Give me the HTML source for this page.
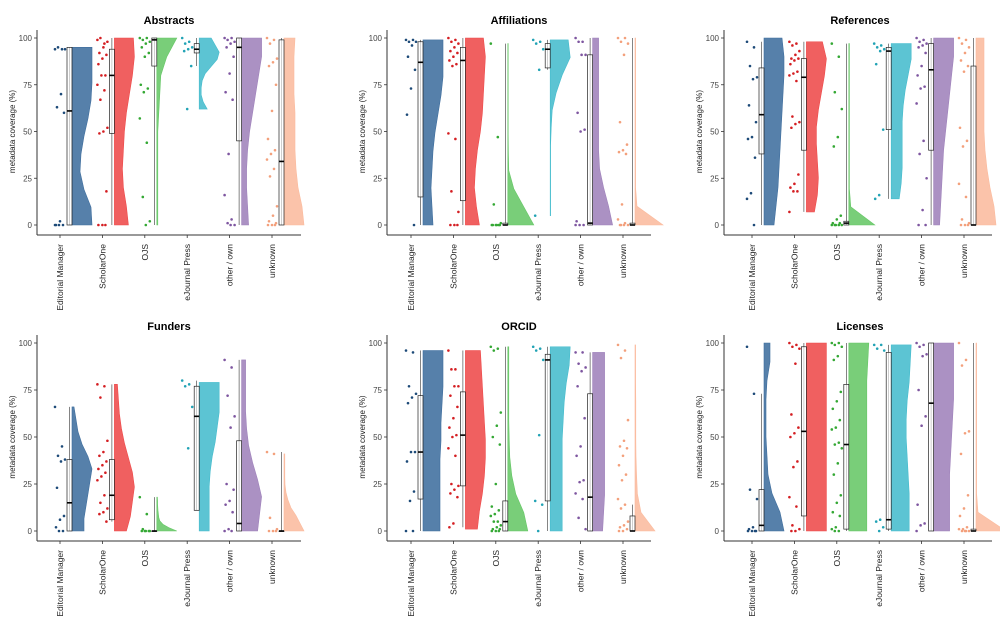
<!DOCTYPE html>
<html><head><meta charset="utf-8"><style>
body{margin:0;background:#fff;}
svg{display:block;font-family:"Liberation Sans",sans-serif;}
</style></head><body>
<svg id="chart" width="1000" height="618" viewBox="0 0 1000 618"></svg>
<script>
const categories = ["Editorial Manager","ScholarOne","OJS","eJournal Press","other / own","unknown"];
const panelTitles = ["Abstracts","Affiliations","References","Funders","ORCID","Licenses"];
const yTicks = [0,25,50,75,100];

// points per panel per category
const abstractsPoints = [[94,94,95,94,70,63,60,2,0,0,0,0],[99,97,100,98,95,92,91,89,86,80,80,75,72,67,52,50,49,18,0,0,0],[100,100,99,98,97,95,92,90,75,73,71,57,44,15,2,0],[100,98,97,95,94,93,85,62],[100,100,99,98,97,95,90,81,71,67,38,16,3,1,0,0],[100,99,97,89,87,85,75,61,46,40,38,35,30,26,10,5,2,1,0,0,0]];
const affiliationsPoints = [[99,99,98,98,96,90,83,73,59,0],[100,99,98,97,95,93,92,90,88,86,85,49,46,18,7,0,0,0],[97,47,11,1,0,0,0,0,0,0],[99,98,97,94,83,5],[100,98,98,91,91,60,51,50,2,0,0,0],[100,100,98,97,91,55,43,40,39,38,11,3,1,0,0,0,0]];
const referencesPoints = [[98,95,85,79,78,64,55,47,46,36,17,14,0],[98,97,96,93,91,89,89,88,86,82,81,80,77,58,55,54,52,27,22,20,18,18,7],[97,90,71,62,47,42,5,3,1,1,0,0,0,0,0],[97,96,95,94,93,86,51,16,14],[100,99,98,97,96,95,92,85,80,74,73,65,45,38,25,8,0,0],[100,99,97,95,92,88,85,82,52,45,42,22,15,3,1,0,0,0]];
const fundersPoints = [[66,45,40,38,37,23,8,6,2,0,0],[78,77,71,48,42,40,37,35,33,31,29,27,19,15,12,10,9,5],[18,9,1,0,0,0,0,0],[80,78,77,66,44],[91,87,72,61,55,25,22,16,14,10,1,0,0],[42,41,7,1,0,0,0]];
const orcidPoints = [[96,95,77,73,71,68,42,42,37,21,16,0,0],[96,86,86,77,77,72,66,60,55,51,50,44,40,25,24,22,20,18,4,2],[98,97,96,63,56,50,46,25,13,11,9,8,5,5,3,2,1,1,0,0,0],[98,97,96,91,51,16,14,0],[95,95,89,87,85,77,60,45,40,27,26,20,17,7,1],[99,96,92,59,48,45,44,40,35,30,27,17,14,12,5,3,2,1,0,0]];
const licensesPoints = [[98,73,22,17,2,1,0,0,0,0],[100,99,98,97,89,62,55,52,50,37,34,18,13,3,1,0,0],[100,100,99,98,93,91,74,69,65,59,55,54,47,46,44,36,30,19,15,10,8,2,1,0,0],[99,99,97,96,6,5,2,0],[100,99,98,94,93,75,61,56,14,4,3,0],[100,91,88,53,52,41,19,12,8,2,1,1,0,0,0,0]];

// box stats [q1, median, q3, whiskerLo, whiskerHi]
const abstractsBox = [[0,61,95,0,95],[49,80,94,0,100],[85,99,100,0,100],[92,94,97,85,100],[45,95,100,0,100],[0,34,99,0,100]];
const affiliationsBox = [[15,87,98,0,99],[13,88,95,0,100],[0,0,1,0,97],[84,94,97,83,99],[0,1,91,0,100],[0,0,1,0,100]];
const referencesBox = [[38,59,84,0,98],[40,79,89,7,98],[0,1,2,0,97],[51,93,95,14,97],[40,83,97,0,100],[0,0,85,0,100]];
const fundersBox = [[0,15,38,0,66],[6,19,38,5,78],[0,0,0,0,18],[11,61,77,11,80],[0,4,48,0,91],[0,0,0,0,42]];
const orcidBox = [[17,42,72,0,96],[24,51,74,2,96],[0,5,16,0,98],[16,91,94,0,98],[0,18,73,0,95],[0,0,8,0,14]];
const licensesBox = [[0,3,22,0,73],[8,53,98,0,100],[1,46,78,0,100],[1,6,95,0,99],[0,68,100,0,100],[0,0,1,0,100]];

// violin range [min,max]
const abstractsRange = [[0,95],[0,100],[0,100],[62,100],[0,100],[0,100]];
const affiliationsRange = [[0,99],[0,100],[0,97],[5,99],[0,100],[0,100]];
const referencesRange = [[0,100],[7,98],[0,97],[14,97],[0,100],[0,100]];
const fundersRange = [[0,66],[0,78],[0,18],[0,79],[0,91],[0,41]];
const orcidRange = [[0,96],[1,96],[0,98],[0,98],[0,95],[0,99]];
const licensesRange = [[0,100],[0,100],[0,100],[0,99],[0,100],[0,100]];

// violin relative density (11 samples from min to max)
const abstractsDensity = [[1,0.95,0.6,0.4,0.45,0.6,0.8,0.95,1,1,1],[0.7,0.6,0.45,0.4,0.45,0.5,0.6,0.75,0.9,1,0.95],[0.05,0.05,0.05,0.05,0.05,0.05,0.1,0.15,0.2,0.5,1],[0.4,0.2,0.1,0.1,0.15,0.3,0.6,0.9,1,0.8,0.6],[0.35,0.3,0.25,0.25,0.3,0.4,0.55,0.7,0.85,1,1],[1,0.9,0.7,0.6,0.55,0.55,0.55,0.5,0.5,0.5,0.55]];
const affiliationsDensity = [[0.5,0.45,0.4,0.45,0.5,0.6,0.75,0.9,1,1,1],[0.7,0.55,0.45,0.5,0.6,0.75,0.85,0.9,0.95,1,0.9],[1.3,0.8,0.3,0.05,0.03,0.02,0.02,0.02,0.02,0.02,0.02],[0.02,0.02,0.02,0.02,0.02,0.05,0.1,0.3,0.6,1,0.9],[1,0.8,0.55,0.35,0.3,0.3,0.3,0.3,0.3,0.3,0.3],[1.4,0.1,0.03,0.03,0.03,0.03,0.03,0.03,0.03,0.03,0.03]];
const referencesDensity = [[0.5,0.6,0.7,0.75,0.8,0.85,0.9,0.95,1,1,0.9],[0.4,0.55,0.6,0.55,0.5,0.5,0.6,0.75,0.9,1,0.8],[1.3,0.1,0.03,0.03,0.03,0.03,0.03,0.03,0.03,0.03,0.03],[0.4,0.5,0.55,0.55,0.55,0.55,0.6,0.7,0.85,1,1],[0.3,0.35,0.4,0.45,0.5,0.6,0.7,0.8,0.9,1,1],[1,0.9,0.7,0.55,0.45,0.4,0.4,0.4,0.4,0.4,0.4]];
const fundersDensity = [[0.6,0.6,0.7,0.8,0.9,1,0.8,0.5,0.3,0.2,0.1],[0.6,0.8,0.9,1,0.9,0.7,0.5,0.35,0.25,0.2,0.15],[1,0.6,0.3,0.15,0.1,0.08,0.06,0.05,0.04,0.04,0.03],[0.5,0.5,0.5,0.5,0.55,0.65,0.8,0.9,1,1,1],[0.8,0.9,1,0.8,0.55,0.35,0.25,0.2,0.2,0.2,0.2],[1,0.8,0.6,0.35,0.2,0.1,0.05,0.04,0.04,0.04,0.04]];
const orcidDensity = [[0.85,0.85,0.85,0.85,0.85,0.9,0.9,0.95,1,1,1],[0.6,0.7,0.85,0.95,1,1,0.95,0.9,0.85,0.8,0.75],[1,0.8,0.4,0.2,0.1,0.07,0.05,0.05,0.05,0.05,0.05],[0.6,0.6,0.6,0.6,0.6,0.6,0.65,0.7,0.8,0.95,1],[0.5,0.55,0.6,0.6,0.6,0.6,0.6,0.6,0.6,0.6,0.6],[1,0.3,0.12,0.08,0.05,0.04,0.04,0.04,0.03,0.03,0.03]];
const licensesDensity = [[1,0.8,0.4,0.2,0.15,0.1,0.1,0.1,0.15,0.3,0.3],[1,1,1,1,1,1,1,1,1,1,1],[0.9,0.9,0.9,0.9,0.9,0.9,0.9,0.9,0.9,0.95,1],[0.9,0.9,0.9,0.85,0.8,0.75,0.75,0.8,0.9,0.95,1],[0.8,0.8,0.8,0.8,0.85,0.9,0.95,1,1,1,1],[1.5,0.1,0.03,0.03,0.03,0.03,0.03,0.03,0.03,0.03,0.03]];

const allPoints=[abstractsPoints,affiliationsPoints,referencesPoints,fundersPoints,orcidPoints,licensesPoints];
const allBox=[abstractsBox,affiliationsBox,referencesBox,fundersBox,orcidBox,licensesBox];
const allRange=[abstractsRange,affiliationsRange,referencesRange,fundersRange,orcidRange,licensesRange];
const allDensity=[abstractsDensity,affiliationsDensity,referencesDensity,fundersDensity,orcidDensity,licensesDensity];

const fills=["#3f6e9e","#ee4a4a","#66c766","#45bccd","#9f82bb","#fbbb9e"];
const dots=["#1d4a78","#d41e22","#34a834","#22a3b5","#7e56a0","#f3a07c"];
const svg=document.getElementById('chart');
const NS="http://www.w3.org/2000/svg";
function mk(tag,attrs,parent){const e=document.createElementNS(NS,tag);for(const k in attrs)e.setAttribute(k,attrs[k]);(parent||svg).appendChild(e);return e;}

const colX=[{ax:37,end:301,c0:60,tx:169},{ax:387,end:651,c0:411,tx:519},{ax:724,end:992,c0:752,tx:860}];
const rowY=[{top:38,bot:225,axis:235,title:20},{top:343,bot:531,axis:541,title:326}];
const STEP=42.4, W=20;

for(let p=0;p<6;p++){
  const col=colX[p%3], row=rowY[Math.floor(p/3)];
  const y=v=>row.bot-(v/100)*(row.bot-row.top);
  const cx=i=>col.c0+i*STEP;
  const g=mk('g',{});
  
  
  const t=mk('text',{x:col.tx,y:row.title+4,'text-anchor':'middle','font-size':11,'font-weight':'bold',fill:'#000'},g);
  t.textContent=panelTitles[p];
  
  
  // axes
  const ya=mk('line',{x1:col.ax,x2:col.ax,y1:row.top-8,y2:row.axis,stroke:'#333','stroke-width':1},g);
  
  
  const xa=mk('line',{x1:col.ax,x2:col.end,y1:row.axis,y2:row.axis,stroke:'#333','stroke-width':1},g);
  
  
  yTicks.forEach(v=>{
    mk('line',{x1:col.ax-3,x2:col.ax,y1:y(v),y2:y(v),stroke:'#333','stroke-width':0.8},g);
    const tl=mk('text',{x:col.ax-5,y:y(v)+3,'text-anchor':'end','font-size':8,fill:'#444'},g);
    tl.textContent=v;
    
    
  });
  const ymid=(row.top+row.bot)/2;
  const yt=mk('text',{x:col.ax-22,y:ymid,'text-anchor':'middle','font-size':8,fill:'#222',transform:`rotate(-90 ${col.ax-22} ${ymid})`},g);
  yt.textContent='metadata coverage (%)';
  
  
  for(let i=0;i<6;i++){
    const c=cx(i);
    mk('line',{x1:c,x2:c,y1:row.axis,y2:row.axis+3,stroke:'#333','stroke-width':0.8},g);
    const lx=c+3, ly=row.axis+9;
    const xl=mk('text',{x:lx,y:ly,'text-anchor':'end','font-size':8.5,fill:'#222',transform:`rotate(-90 ${lx} ${ly})`},g);
    xl.textContent=categories[i];
    
    
    // violin
    const [mn,mx]=allRange[p][i], d=allDensity[p][i];
    const vx=c+12;
    let path=`M${vx},${y(mn)}`;
    d.forEach((w,k)=>{const v=mn+(mx-mn)*k/(d.length-1);path+=` L${vx+w*W},${y(v)}`;});
    path+=` L${vx},${y(mx)} Z`;
    const vi=mk('path',{d:path,fill:fills[i],'fill-opacity':0.88,stroke:fills[i],'stroke-width':0.6},g);
    
    
    // box
    const [q1,md,q3,wl,wh]=allBox[p][i];
    const bx=c+7;
    mk('line',{x1:bx+2.5,x2:bx+2.5,y1:y(wh),y2:y(wl),stroke:'#333','stroke-width':0.6},g);
    const bo=mk('rect',{x:bx,y:y(q3),width:5,height:Math.max(0.5,y(q1)-y(q3)),fill:'#fff','fill-opacity':0.6,stroke:'#222','stroke-width':0.7},g);
    
    
    const me=mk('line',{x1:bx,x2:bx+5,y1:y(md),y2:y(md),stroke:'#000','stroke-width':1.6},g);
    
    
    // points
    allPoints[p][i].forEach((v,k)=>{
      const jx=c-5+((k*7)%11);
      const pt=mk('circle',{cx:jx,cy:y(v),r:1.3,fill:dots[i]},g);
      
      
    });
  }
}
</script>
</body></html>
